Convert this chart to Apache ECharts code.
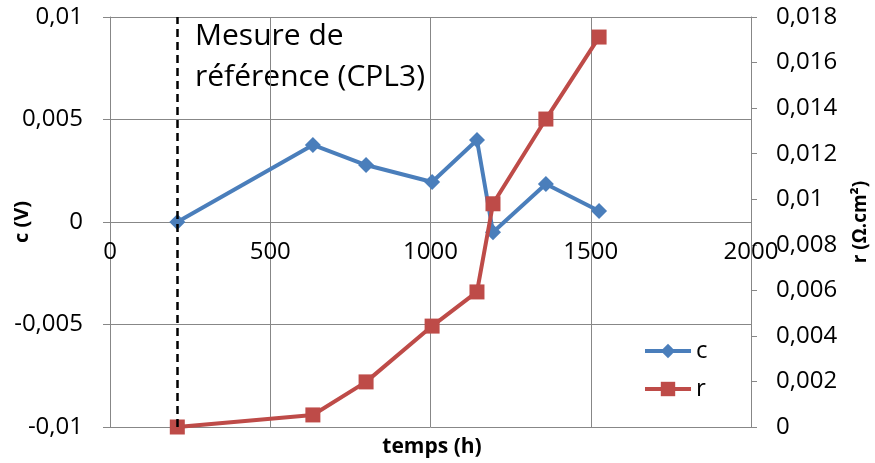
<!DOCTYPE html>
<html><head><meta charset="utf-8">
<script src="https://cdn.jsdelivr.net/npm/echarts@6/dist/echarts.min.js"></script>
<style>html,body{margin:0;padding:0;background:#fff}#c{width:875px;height:463px}</style>
</head><body><div id="c"></div>
<script>
const temps = [210, 633, 799, 1005, 1145, 1195, 1360, 1526];
const cValues = [0, 0.00376, 0.00278, 0.00195, 0.0040, -0.0005, 0.00185, 0.00054];
const rValues = [0, 0.00053, 0.00198, 0.00443, 0.00593, 0.0098, 0.01352, 0.01712];
const refTime = 210;
const FONT = 'Open Sans';
const fmt = v => String(+v.toFixed(6)).replace('.', ',');
const chart = echarts.init(document.getElementById('c'));
const gridColor = '#878787';
chart.setOption({
  animation: false,
  textStyle: {fontFamily: FONT},
  grid: {left: 110, right: 124, top: 17, bottom: 36, containLabel: false, outerBoundsMode: 'none'},
  legend: {
    orient: 'vertical', left: 638, top: 334, itemWidth: 46, itemHeight: 18, itemGap: 14,
    textStyle: {fontSize: 24, color: '#000', fontFamily: FONT},
    lineStyle: {width: 4},
    data: ['c', 'r']
  },
  xAxis: {
    type: 'value', min: 0, max: 2000, interval: 500,
    offset: -205,
    axisLine: {onZero: false, lineStyle: {color: gridColor, width: 1}},
    axisTick: {show: false},
    axisLabel: {fontSize: 24, color: '#000', margin: 18, fontFamily: FONT, formatter: v => String(v)},
    splitLine: {show: true, lineStyle: {color: gridColor, width: 1}}
  },
  yAxis: [{
    type: 'value', min: -0.01, max: 0.01, interval: 0.005,
    axisLine: {show: true, onZero: false, lineStyle: {color: gridColor}},
    axisTick: {show: true, length: 7, lineStyle: {color: gridColor}},
    axisLabel: {fontSize: 24, color: '#000', margin: 27, formatter: fmt, fontFamily: FONT},
    splitLine: {show: true, lineStyle: {color: gridColor, width: 1}}
  }, {
    type: 'value', min: 0, max: 0.018, interval: 0.002, position: 'right',
    axisLine: {show: true, onZero: false, lineStyle: {color: gridColor}},
    axisTick: {show: true, length: 6, lineStyle: {color: gridColor}},
    axisLabel: {fontSize: 24, color: '#000', margin: 25, formatter: fmt, fontFamily: FONT},
    splitLine: {show: false}
  }],
  graphic: [
    {type: 'text', x: 432, y: 447, style: {text: 'temps (h)', fontSize: 21, fontWeight: 'bold', fill: '#000', fontFamily: FONT, align: 'center', verticalAlign: 'middle'}},
    {type: 'text', x: 22, y: 222, rotation: Math.PI / 2, style: {text: 'c (V)', fontSize: 20, fontWeight: 'bold', fill: '#000', fontFamily: FONT, align: 'center', verticalAlign: 'middle'}},
    {type: 'text', x: 861, y: 222, rotation: Math.PI / 2, style: {text: 'r (Ω.cm²)', fontSize: 19, fontWeight: 'bold', fill: '#000', fontFamily: FONT, align: 'center', verticalAlign: 'middle'}},
    {type: 'text', left: 195, top: 16, style: {text: 'Mesure de\nréférence (CPL3)', fontSize: 30, lineHeight: 41, fill: '#000', fontFamily: FONT}}
  ],
  series: [{
    name: 'c', type: 'line', yAxisIndex: 0,
    data: temps.map((t, i) => [t, cValues[i]]),
    symbol: 'diamond', symbolSize: 16,
    lineStyle: {color: '#4A7EBB', width: 4}, itemStyle: {color: '#4A7EBB'},
    z: 3,
    markLine: {
      silent: true, symbol: 'none', label: {show: false},
      lineStyle: {color: '#000', type: [8, 5], width: 2.5},
      data: [{xAxis: refTime}]
    }
  }, {
    name: 'r', type: 'line', yAxisIndex: 1,
    data: temps.map((t, i) => [t, rValues[i]]),
    symbol: 'rect', symbolSize: 15,
    lineStyle: {color: '#BE4B48', width: 4}, itemStyle: {color: '#BE4B48'},
    z: 4
  }]
});
</script></body></html>
